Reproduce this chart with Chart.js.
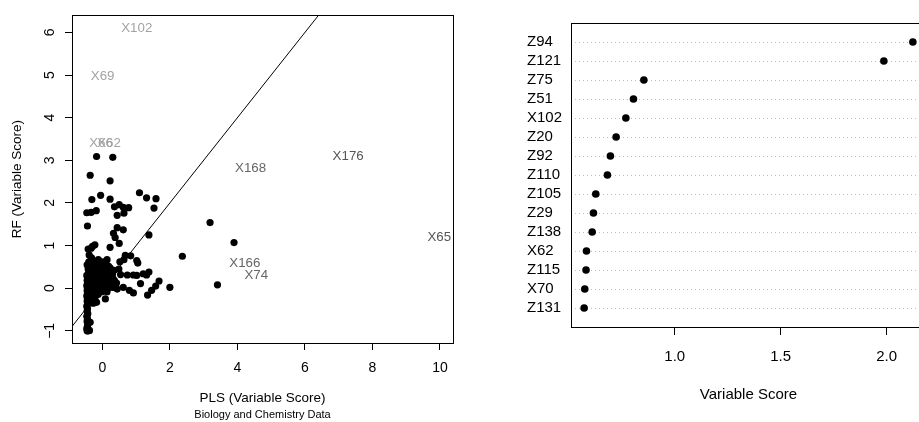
<!DOCTYPE html>
<html>
<head>
<meta charset="utf-8">
<title>PLS vs RF variable scores</title>
<script src="https://cdn.jsdelivr.net/npm/chart.js@4/dist/chart.umd.min.js"></script>
<style>
  html, body { margin: 0; padding: 0; background: #fff; overflow: hidden; }
  #scoreChart { position: absolute; left: 0; top: 0; }
  #dotChart { position: absolute; left: 460px; top: 0; }
</style>
</head>
<body>
<canvas id="scoreChart" width="460" height="422"></canvas>
<canvas id="dotChart" width="470" height="422"></canvas>
<script>
// ── left panel: PLS score vs RF score ──
const plsScore = [
  -0.17, 0.31, -0.36, 0.23, -0.05, -0.31, 0.23, 1.10, 1.31, 1.59, 1.53, 0.36, 0.50, 0.62,
  0.78, -0.46, -0.33, -0.18, 0.44, 0.64, -0.44, 0.44, 0.62, 0.33, 0.38, 0.50, 1.38, 0.23,
  3.19, 3.90, 2.37, 3.41, 2.00, 1.68, 1.58, 1.34, 1.46, 1.38, 1.21, 1.31, 1.13, 1.02,
  1.02, 1.05, 0.84, 0.68, 0.64, 0.74, 0.92, 0.80, 0.92, 0.62, 0.52, 0.49, 0.54, 0.36,
  0.09, -0.17, -0.27, -0.42, -0.22, -0.29, -0.39, -0.32, -0.12, 0.14, 0.08, -0.07,
  -0.17, 0.23, 0.35, 0.05, 0.15, -0.07, -0.22, 0.23, 0.38, 0.44, 0.05, -0.12, -0.33,
  -0.40, -0.30, -0.22, -0.05, 0.05,
  -0.38, -0.28, -0.12, 0.00, 0.12, 0.18,
  -0.40, -0.32, -0.24, -0.15, -0.05, 0.05, 0.15, 0.28,
  -0.38, -0.30, -0.22, -0.12, -0.02, 0.12, 0.22, 0.30,
  -0.40, -0.32, -0.24, -0.16, -0.06, 0.04, 0.24, 0.32,
  -0.38, -0.30, -0.20, -0.10, 0.00, 0.10, 0.18, 0.28, 0.42,
  -0.40, -0.32, -0.24, -0.14, -0.04, 0.12, 0.20, 0.30,
  -0.38, -0.30, -0.20, -0.02, 0.14,
  -0.36, -0.28, -0.20,
  -0.34, -0.22,
  -0.45, -0.42, -0.38, -0.46, -0.44, -0.43, -0.36, -0.45, -0.44, -0.46, -0.43, -0.45,
  -0.44, -0.46, -0.43, -0.45, -0.44, -0.46, -0.42, -0.45, -0.44, -0.46, -0.43, -0.45,
  -0.44, -0.46, -0.40, -0.45, -0.42
];
const rfScore = [
  3.09, 3.07, 2.65, 2.52, 2.18, 2.08, 2.09, 2.24, 2.12, 2.10, 1.88, 1.91, 1.96, 1.90,
  1.89, 1.77, 1.78, 1.82, 1.71, 1.76, 1.46, 1.42, 1.37, 1.29, 1.19, 1.05, 1.25, 0.96,
  1.54, 1.07, 0.75, 0.08, 0.02, 0.17, 0.05, -0.16, -0.05, 0.38, 0.34, 0.31, 0.11, 0.30,
  0.65, 0.59, 0.76, 0.77, 0.67, 0.31, 0.31, -0.05, -0.11, 0.02, 0.62, 0.45, 0.32, 0.18,
  -0.25, -0.33, -0.35, 0.92, 1.02, 0.98, 0.78, 0.71, 0.67, 0.67, 0.55, 0.52,
  0.48, 0.48, 0.42, 0.32, 0.21, 0.17, 0.09, 0.05, 0.02, -0.02, -0.06, -0.14, 0.94,
  0.62, 0.62, 0.62, 0.62, 0.62,
  0.52, 0.52, 0.52, 0.52, 0.52, 0.52,
  0.42, 0.42, 0.42, 0.42, 0.42, 0.42, 0.42, 0.42,
  0.32, 0.32, 0.32, 0.32, 0.32, 0.32, 0.32, 0.32,
  0.22, 0.22, 0.22, 0.22, 0.22, 0.22, 0.22, 0.22,
  0.12, 0.12, 0.12, 0.12, 0.12, 0.12, 0.12, 0.12, 0.12,
  0.02, 0.02, 0.02, 0.02, 0.02, 0.02, 0.02, 0.02,
  -0.08, -0.08, -0.08, -0.08, -0.08,
  -0.18, -0.18, -0.18,
  -0.28, -0.28,
  -1.00, -1.00, -0.99, -0.95, -0.90, -0.85, -0.80, -0.78, -0.72, -0.66, -0.60, -0.54,
  -0.48, -0.42, -0.36, -0.30, -0.24, -0.18, -0.12, -0.06, 0.00, 0.06, 0.12, 0.18,
  0.24, 0.30, 0.36, 0.55, 0.45
];

// variables shown as text instead of points
const labelNames  = ['X102', 'X69', 'X66', 'X62', 'X168', 'X176', 'X166', 'X74', 'X65'];
const labelPls    = [1.02, 0.01, -0.04, 0.20, 4.39, 7.28, 4.22, 4.56, 9.98];
const labelRf     = [6.09, 4.98, 3.40, 3.40, 2.82, 3.09, 0.58, 0.30, 1.19];
const labelColors = ['#a3a3a3', '#a3a3a3', '#a3a3a3', '#a3a3a3', '#666666', '#555555', '#666666', '#666666', '#555555'];

const xTicks = [0, 2, 4, 6, 8, 10];
const yTicks = [-1, 0, 1, 2, 3, 4, 5, 6];
const refLine = [-1.5, 7];   // y = x

// ── right panel: dot chart of top variables ──
const dotNames  = ['Z94', 'Z121', 'Z75', 'Z51', 'X102', 'Z20', 'Z92', 'Z110', 'Z105', 'Z29', 'Z138', 'X62', 'Z115', 'X70', 'Z131'];
const dotValues = [2.124, 1.987, 0.854, 0.805, 0.769, 0.723, 0.696, 0.682, 0.627, 0.616, 0.610, 0.583, 0.581, 0.575, 0.572];
const dotTicks  = [1.0, 1.5, 2.0];

const FONT = "'Liberation Sans', Arial, Helvetica, sans-serif";
Chart.defaults.font.family = FONT;
Chart.defaults.color = '#000';

const boxPlugin = {
  id: 'box',
  afterDraw(chart) {
    const { ctx, chartArea: a } = chart;
    const l = Math.floor(a.left), t = Math.floor(a.top);
    ctx.save();
    ctx.strokeStyle = '#000';
    ctx.lineWidth = 1;
    ctx.strokeRect(l + 0.5, t + 0.5, Math.floor(a.right) - l, Math.floor(a.bottom) - t);
    ctx.restore();
  }
};

const pointLabels = {
  id: 'pointLabels',
  afterDatasetsDraw(chart) {
    const { ctx, scales: { x, y } } = chart;
    ctx.save();
    ctx.font = `13.3px ${FONT}`;
    ctx.textAlign = 'center';
    ctx.textBaseline = 'middle';
    labelNames.forEach((name, i) => {
      ctx.fillStyle = labelColors[i];
      ctx.fillText(name, x.getPixelForValue(labelPls[i]), y.getPixelForValue(labelRf[i]));
    });
    ctx.restore();
  }
};

new Chart(document.getElementById('scoreChart'), {
  type: 'scatter',
  data: {
    datasets: [{
      data: plsScore.map((v, i) => ({ x: v, y: rfScore[i] })),
      pointRadius: 3.6,
      backgroundColor: '#000',
      borderWidth: 0,
    }, {
      data: refLine.map(v => ({ x: v, y: v })),
      showLine: true,
      borderColor: '#000',
      borderWidth: 1,
      pointRadius: 0,
      clip: 0,
    }]
  },
  options: {
    responsive: false,
    animation: false,
    events: [],
    layout: { padding: { top: 10, right: 7, left: 0, bottom: 0 } },
    plugins: {
      legend: { display: false },
      tooltip: { enabled: false },
      subtitle: {
        display: true,
        position: 'bottom',
        fullSize: false,
        text: 'Biology and Chemistry Data',
        color: '#000',
        font: { size: 11, weight: 'normal' },
        padding: { top: 2, bottom: 0 },
      },
    },
    scales: {
      x: {
        type: 'linear',
        min: -0.898, max: 10.385,
        afterBuildTicks: s => { s.ticks = xTicks.map(v => ({ value: v })); },
        afterFit: s => { s.height = 63.8; },
        grid: { drawOnChartArea: false, drawTicks: true, tickLength: 7, color: '#000' },
        border: { display: false },
        ticks: { padding: 10, autoSkip: false, maxRotation: 0, font: { size: 14 } },
        title: { display: true, text: 'PLS (Variable Score)', font: { size: 13.5 }, padding: { top: 0, bottom: 0 } },
      },
      y: {
        type: 'linear',
        min: -1.285, max: 6.4,
        afterBuildTicks: s => { s.ticks = yTicks.map(v => ({ value: v })); },
        afterFit: s => { s.width = 72; },
        grid: { drawOnChartArea: false, drawTicks: true, tickLength: 7, color: '#000' },
        border: { display: false },
        ticks: {
          minRotation: 90, maxRotation: 90, crossAlign: 'center', padding: 7, autoSkip: false,
          font: { size: 14 },
          callback: v => v < 0 ? '\u2212' + (-v) : String(v),
        },
        title: { display: true, text: 'RF (Variable Score)', font: { size: 13.5 }, padding: { top: 9, bottom: 0 } },
      }
    }
  },
  plugins: [boxPlugin, pointLabels]
});

new Chart(document.getElementById('dotChart'), {
  type: 'scatter',
  data: {
    datasets: [{
      data: dotValues.map((v, i) => ({ x: v, y: dotNames.length - i })),
      pointRadius: 3.8,
      backgroundColor: '#000',
      borderWidth: 0,
    }]
  },
  options: {
    responsive: false,
    animation: false,
    events: [],
    layout: { padding: { top: 23, left: 67, right: 3.6, bottom: 0 } },
    plugins: { legend: { display: false }, tooltip: { enabled: false } },
    scales: {
      x: {
        type: 'linear',
        min: 0.510, max: 2.186,
        afterBuildTicks: s => { s.ticks = dotTicks.map(v => ({ value: v })); },
        afterFit: s => { s.height = 95; },
        grid: { drawOnChartArea: false, drawTicks: true, tickLength: 8, color: '#000' },
        border: { display: false },
        ticks: { padding: 13, autoSkip: false, maxRotation: 0, font: { size: 15 }, callback: v => v.toFixed(1) },
        title: { display: true, text: 'Variable Score', font: { size: 15 }, padding: { top: 0, bottom: 18 } },
      },
      y: {
        type: 'linear',
        min: 0, max: 16,
        afterBuildTicks: s => { s.ticks = dotNames.map((_, i) => ({ value: i + 1 })); },
        afterFit: s => { s.width = 44; },
        grid: { drawTicks: false, color: '#bebebe', lineWidth: 1 },
        border: { display: false, dash: [1, 3] },
        ticks: { crossAlign: 'far', autoSkip: false, font: { size: 15 }, callback: v => dotNames[dotNames.length - v] },
      }
    }
  },
  plugins: [boxPlugin]
});
</script>
</body>
</html>
